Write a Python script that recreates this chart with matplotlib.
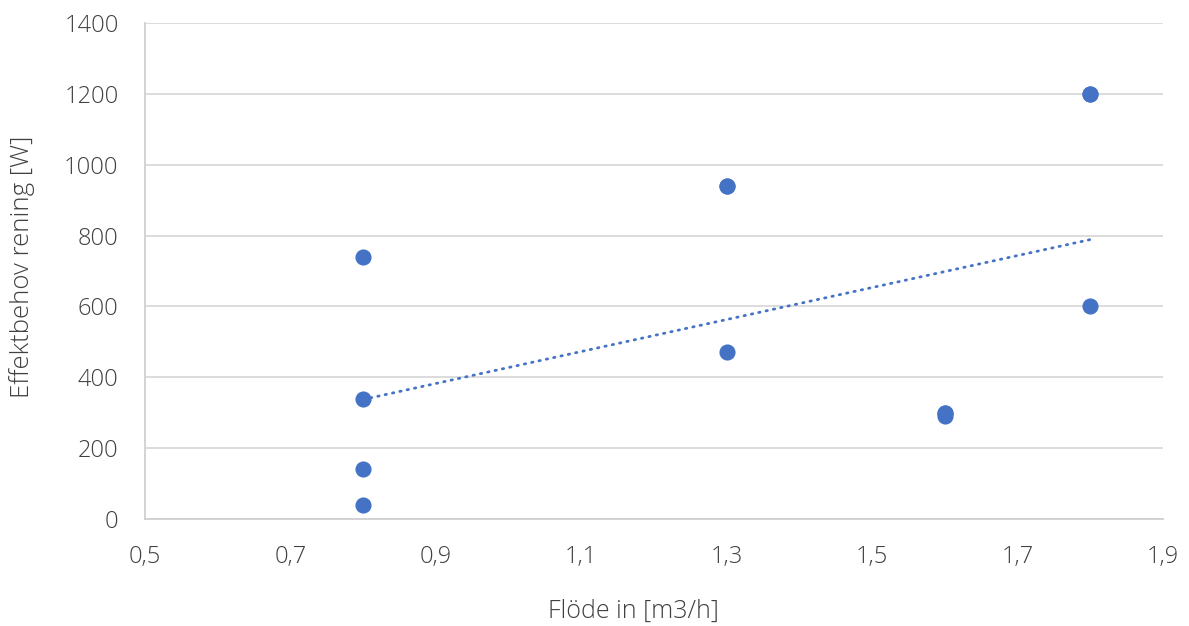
import matplotlib
matplotlib.use("Agg")
import matplotlib.pyplot as plt
import numpy as np

# Data
flow = [0.8, 0.8, 0.8, 0.8, 1.3, 1.3, 1.3, 1.6, 1.6, 1.6, 1.8, 1.8, 1.8]
power = [740, 340, 140, 40, 940, 940, 470, 300, 290, 300, 1200, 1200, 600]
x_ticks = [0.5, 0.7, 0.9, 1.1, 1.3, 1.5, 1.7, 1.9]
y_ticks = [0, 200, 400, 600, 800, 1000, 1200, 1400]
x_label = "Flöde in [m3/h]"
y_label = "Effektbehov rening [W]"

plt.rcParams['font.family'] = ['Open Sans', 'DejaVu Sans']
plt.rcParams['font.weight'] = 'light'
text_color = '#404040'
blue = '#4472C4'

fig = plt.figure(figsize=(11.89, 6.26), dpi=100)
ax = fig.add_axes([145/1189, 1-519/626, (1163-145)/1189, (519-23)/626])

ax.scatter(flow, power, s=135, color=blue, zorder=3, linewidths=0)

# linear trendline (Excel style)
xs = np.array(flow); ys = np.array(power)
k, m = np.polyfit(xs, ys, 1)
xl = np.array([xs.min(), xs.max()])
ax.plot(xl, k*xl + m, color=blue, lw=2.0, linestyle=(0, (0.5, 2.2)),
        dash_capstyle='round', zorder=2)

ax.set_xlim(0.5, 1.9)
ax.set_ylim(0, 1400)
ax.set_xticks(x_ticks)
ax.set_xticklabels([f"{v:.1f}".replace('.', ',') for v in x_ticks])
ax.set_yticks(y_ticks)
ax.set_yticklabels([str(v) for v in y_ticks])
ax.tick_params(axis='both', length=0, labelsize=17, labelcolor=text_color)
ax.tick_params(axis='x', pad=19)
ax.tick_params(axis='y', pad=19)
for lab in ax.get_xticklabels() + ax.get_yticklabels():
    lab.set_fontweight('light')

ax.grid(axis='y', color='#d9d9d9', lw=1.3)
ax.set_axisbelow(True)
for s in ['top', 'right']:
    ax.spines[s].set_visible(False)
for s in ['left', 'bottom']:
    ax.spines[s].set_color('#d0d0d0')
    ax.spines[s].set_linewidth(1.3)

fig.text(633/1189, 1-611/626, x_label, ha='center', va='center', fontsize=18,
         color=text_color, fontweight='light')
fig.text(22/1189, 1-267/626, y_label, ha='center', va='center', rotation=90,
         fontsize=18.5, color=text_color, fontweight='light')

fig.savefig("out.png", dpi=100)
